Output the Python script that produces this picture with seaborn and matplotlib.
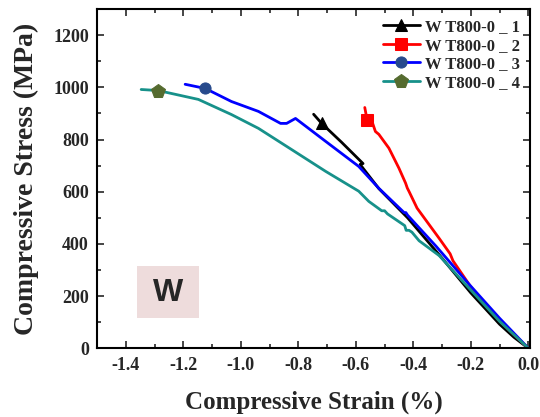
import matplotlib
matplotlib.use("Agg")
import matplotlib.pyplot as plt
import seaborn as sns
import pandas as pd
from matplotlib.patches import Rectangle
from matplotlib.ticker import MultipleLocator

# ---- data ----
labels = ["W T800-0 _ 1", "W T800-0 _ 2", "W T800-0 _ 3", "W T800-0 _ 4"]

strain_1 = [0.0, -0.05, -0.10, -0.20, -0.30, -0.42, -0.52, -0.575, -0.585, -0.575, -0.65, -0.719, -0.747]
stress_1 = [0, 42, 92, 212, 345, 500, 612, 690, 705, 708, 790, 862, 897]
mark_1 = 11

strain_2 = [0.0, -0.10, -0.15, -0.20, -0.262, -0.272, -0.31, -0.387, -0.415, -0.421, -0.427, -0.45, -0.485, -0.52, -0.532, -0.544, -0.561, -0.569]
stress_2 = [0, 105, 168, 235, 335, 362, 421, 537, 601, 614, 633, 690, 767, 820, 831, 870, 876, 923]
mark_2 = 16

strain_3 = [0.0, -0.10, -0.206, -0.321, -0.42, -0.426, -0.432, -0.52, -0.59, -0.705, -0.81, -0.841, -0.862, -0.939, -1.033, -1.124, -1.194]
stress_3 = [0, 115, 245, 391, 510, 520, 520, 613, 697, 793, 881, 862, 862, 908, 946, 996, 1012]
mark_3 = 15

strain_4 = [0.0, -0.10, -0.206, -0.31, -0.38, -0.405, -0.415, -0.425, -0.43, -0.49, -0.50, -0.51, -0.555, -0.59, -0.705, -0.824, -0.939, -1.033, -1.148, -1.288, -1.347]
stress_4 = [0, 103, 230, 355, 412, 445, 452, 452, 470, 515, 527, 527, 563, 602, 678, 762, 843, 896, 954, 988, 992]
mark_4 = 19

line_colors = ["#000000", "#ff0000", "#0000ff", "#17918a"]
marker_colors = ["#000000", "#ff0000", "#274a8c", "#556b2f"]
markers = ["^", "s", "o", "p"]
marker_sizes = [8, 8, 8, 10]

series = [(strain_1, stress_1, mark_1), (strain_2, stress_2, mark_2),
          (strain_3, stress_3, mark_3), (strain_4, stress_4, mark_4)]

sns.set_style("ticks")
plt.rcParams["font.family"] = ["Liberation Serif", "DejaVu Serif"]
plt.rcParams["font.weight"] = "bold"

fig = plt.figure(figsize=(5.4, 4.17), dpi=100)
ax = fig.add_axes([0.18, 0.165, 0.801, 0.813])

for i, (xs, ys, mk) in enumerate(series):
    df = pd.DataFrame({"strain": xs, "stress": ys})
    sns.lineplot(data=df, x="strain", y="stress", sort=False, estimator=None,
                 ax=ax, color=line_colors[i], linewidth=2.0,
                 marker=markers[i], markevery=[mk], markersize=marker_sizes[i],
                 markerfacecolor=marker_colors[i], markeredgecolor=marker_colors[i],
                 label=labels[i])

ax.set_xlim(-1.5, 0.005)
ax.set_ylim(0, 1300)
ax.xaxis.set_minor_locator(MultipleLocator(0.1))
ax.yaxis.set_minor_locator(MultipleLocator(100))
ax.set_xticks([-1.4, -1.2, -1.0, -0.8, -0.6, -0.4, -0.2, 0.0])
ax.set_xticklabels(["-1.4", "-1.2", "-1.0", "-0.8", "-0.6", "-0.4", "-0.2", "0.0"])
ax.set_yticks([0, 200, 400, 600, 800, 1000, 1200])

ax.tick_params(which="both", direction="in", top=True, right=True, width=1.2,
               labelsize=13)
ax.tick_params(which="major", length=5, pad=6)
ax.tick_params(which="minor", length=3)
for lab in ax.get_xticklabels() + ax.get_yticklabels():
    lab.set_fontweight("bold")
for sp in ax.spines.values():
    sp.set_linewidth(1.5)
    sp.set_color("black")

ax.set_xlabel("Compressive Strain (%)", fontsize=18, fontweight="bold", labelpad=12)
ax.set_ylabel("Compressive Stress (MPa)", fontsize=20, fontweight="bold", labelpad=10)

ax.add_patch(Rectangle((-1.36, 115), 0.213, 199, facecolor="#eedcdc",
                       edgecolor="none", zorder=1))
ax.text(-1.2535, 212, "W", fontsize=23, fontweight="bold", ha="center",
        va="center", family=["Liberation Sans", "DejaVu Sans"], zorder=2)

leg = ax.legend(loc="upper right", frameon=False, fontsize=12, handlelength=2.2,
                borderaxespad=0.2, labelspacing=0.15, handletextpad=0.3)
for t in leg.get_texts():
    t.set_fontweight("bold")

fig.savefig("out.png", dpi=100)
